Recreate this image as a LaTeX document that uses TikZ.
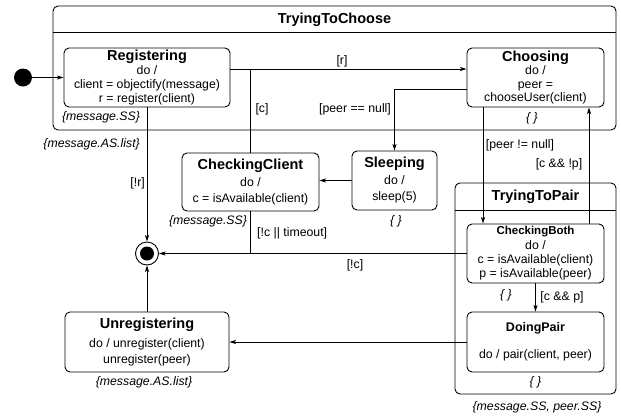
\documentclass[tikz,border=0pt]{standalone}
\usepackage{fontspec}
\setmainfont{Liberation Sans}
\usetikzlibrary{arrows.meta}

\tikzset{
  state/.style={draw, line width=0.9pt, rounded corners=5pt, align=center, inner sep=0pt},
  compstate/.style={draw, line width=0.9pt, rounded corners=5pt, inner sep=0pt},
  tr/.style={line width=0.8pt, -{Stealth[length=6.5pt,width=4pt,inset=1.5pt]}},
  guard/.style={font=\fontsize{12.3}{14}\selectfont, inner sep=0pt},
  note/.style={font=\fontsize{12.3}{14}\selectfont\itshape, inner sep=0pt},
}
\newcommand{\sttitle}[1]{{\fontsize{14.5}{16}\selectfont\bfseries #1}}
\newcommand{\stsmall}[1]{{\fontsize{11.5}{14}\selectfont\bfseries #1}}

\begin{document}
\begin{tikzpicture}[x=1pt,y=-1pt]
\useasboundingbox (0,0) rectangle (621,416);

% definitions
\node[compstate, minimum width=563pt, minimum height=124pt] (choose) at (334.5,68) {};
\node[font=\fontsize{14.5}{16}\selectfont\bfseries] (choose-t) at (334.5,20) {TryingToChoose};
\draw[line width=0.9pt] ([yshift=-27pt]choose.north west) -- ([yshift=-27pt]choose.north east);

\node[compstate, minimum width=161pt, minimum height=211pt] (pair) at (535.5,288.5) {};
\node[font=\fontsize{14.5}{16}\selectfont\bfseries] (pair-t) at (535.5,197) {TryingToPair};
\draw[line width=0.9pt] ([yshift=-28pt]pair.north west) -- ([yshift=-28pt]pair.north east);

\node[circle, fill, minimum size=18pt, inner sep=0pt] (init) at (23,77.5) {};
\node[circle, draw, line width=0.9pt, minimum size=23pt, inner sep=0pt] (final) at (147,253.5) {};
\node[circle, fill, minimum size=14pt, inner sep=0pt] (final-in) at (final) {};

\node[state, minimum width=166pt, minimum height=59pt, font=\fontsize{12.3}{14}\selectfont] (reg) at (147,77.5)
  {\sttitle{Registering}\\ do /\\ client = objectify(message)\\ r = register(client)};
\node[state, minimum width=137pt, minimum height=59pt, font=\fontsize{12.3}{13.5}\selectfont] (choo) at (535.5,77.5)
  {\sttitle{Choosing}\\ do /\\ peer =\\ chooseUser(client)};
\node[state, minimum width=137pt, minimum height=58pt, font=\fontsize{12.3}{14}\selectfont] (cc) at (250.5,182)
  {\sttitle{CheckingClient}\\[3pt] do /\\[2pt] c = isAvailable(client)};
\node[state, minimum width=85pt, minimum height=59pt, font=\fontsize{12.3}{14}\selectfont] (sleep) at (394.5,180.5)
  {\sttitle{Sleeping}\\[3pt] do /\\[2pt] sleep(5)};
\node[state, minimum width=137pt, minimum height=59pt, font=\fontsize{12.3}{14.3}\selectfont] (cb) at (535.5,253.5)
  {\stsmall{CheckingBoth}\\ do /\\ c = isAvailable(client)\\ p = isAvailable(peer)};
\node[state, minimum width=137pt, minimum height=60pt, font=\fontsize{12.3}{14}\selectfont] (dp) at (535.5,342)
  {{\fontsize{12.5}{14}\selectfont\bfseries DoingPair}\\[13pt] do / pair(client, peer)};
\node[state, minimum width=164pt, minimum height=60pt, font=\fontsize{12.3}{14}\selectfont] (unreg) at (147,342)
  {\sttitle{Unregistering}\\[5pt] do / unregister(client)\\[2pt] unregister(peer)};

\coordinate (jc) at (250.5,69);

% transitions
\draw[tr] (init) -- (reg);
\draw[tr] (reg.east |- jc) -- (choo.west |- jc);
\draw[line width=0.8pt] (cc) -- (jc);
\draw[tr] ([yshift=-11.5pt]choo.west) -| (sleep.north);
\draw[tr] (sleep.west) -- (cc.east |- sleep.west);
\draw[tr] (reg) -- (final);
\draw[line width=0.8pt] (cc) -- (cc |- final);
\draw[tr] (cb.west) -- (final);
\draw[tr] (unreg) -- (final);
\draw[tr] (dp.west) -- (unreg.east |- dp.west);
\draw[tr] ([xshift=-52.5pt]choo.south) -- ([xshift=-52.5pt]cb.north);
\draw[tr] ([xshift=53.5pt]cb.north) -- ([xshift=53.5pt]choo.south);
\draw[tr] (cb) -- (dp);

% labels
\node[guard] (g-r) at (342,61) {[r]};
\node[guard] (g-c) at (262,109) {[c]};
\node[guard] (g-null) at (355,109) {[peer == null]};
\node[guard, anchor=east] (g-nr) at (145,183) {[!r]};
\node[guard, anchor=west] (g-to) at (257,233) {[!c || timeout]};
\node[guard] (g-nc) at (355,265) {[!c]};
\node[guard] (g-nnull) at (520,145) {[peer != null]};
\node[guard] (g-cnp) at (559,164) {[c \&\& !p]};
\node[guard] (g-cp) at (562,297) {[c \&\& p]};

\node[note] (n-reg) at (101,117) {\{message.SS\}};
\node[note, anchor=east] (n-list) at (140,144) {\{message.AS.list\}};
\node[note] (n-choo) at (532,118) {\{ \}};
\node[note] (n-cc) at (208,221) {\{message.SS\}};
\node[note] (n-sleep) at (396,221) {\{ \}};
\node[note] (n-cb) at (506,295) {\{ \}};
\node[note] (n-dp) at (535.5,382.5) {\{ \}};
\node[note] (n-unreg) at (144,382) {\{message.AS.list\}};
\node[note] (n-pair) at (537,407) {\{message.SS, peer.SS\}};
\end{tikzpicture}
\end{document}
